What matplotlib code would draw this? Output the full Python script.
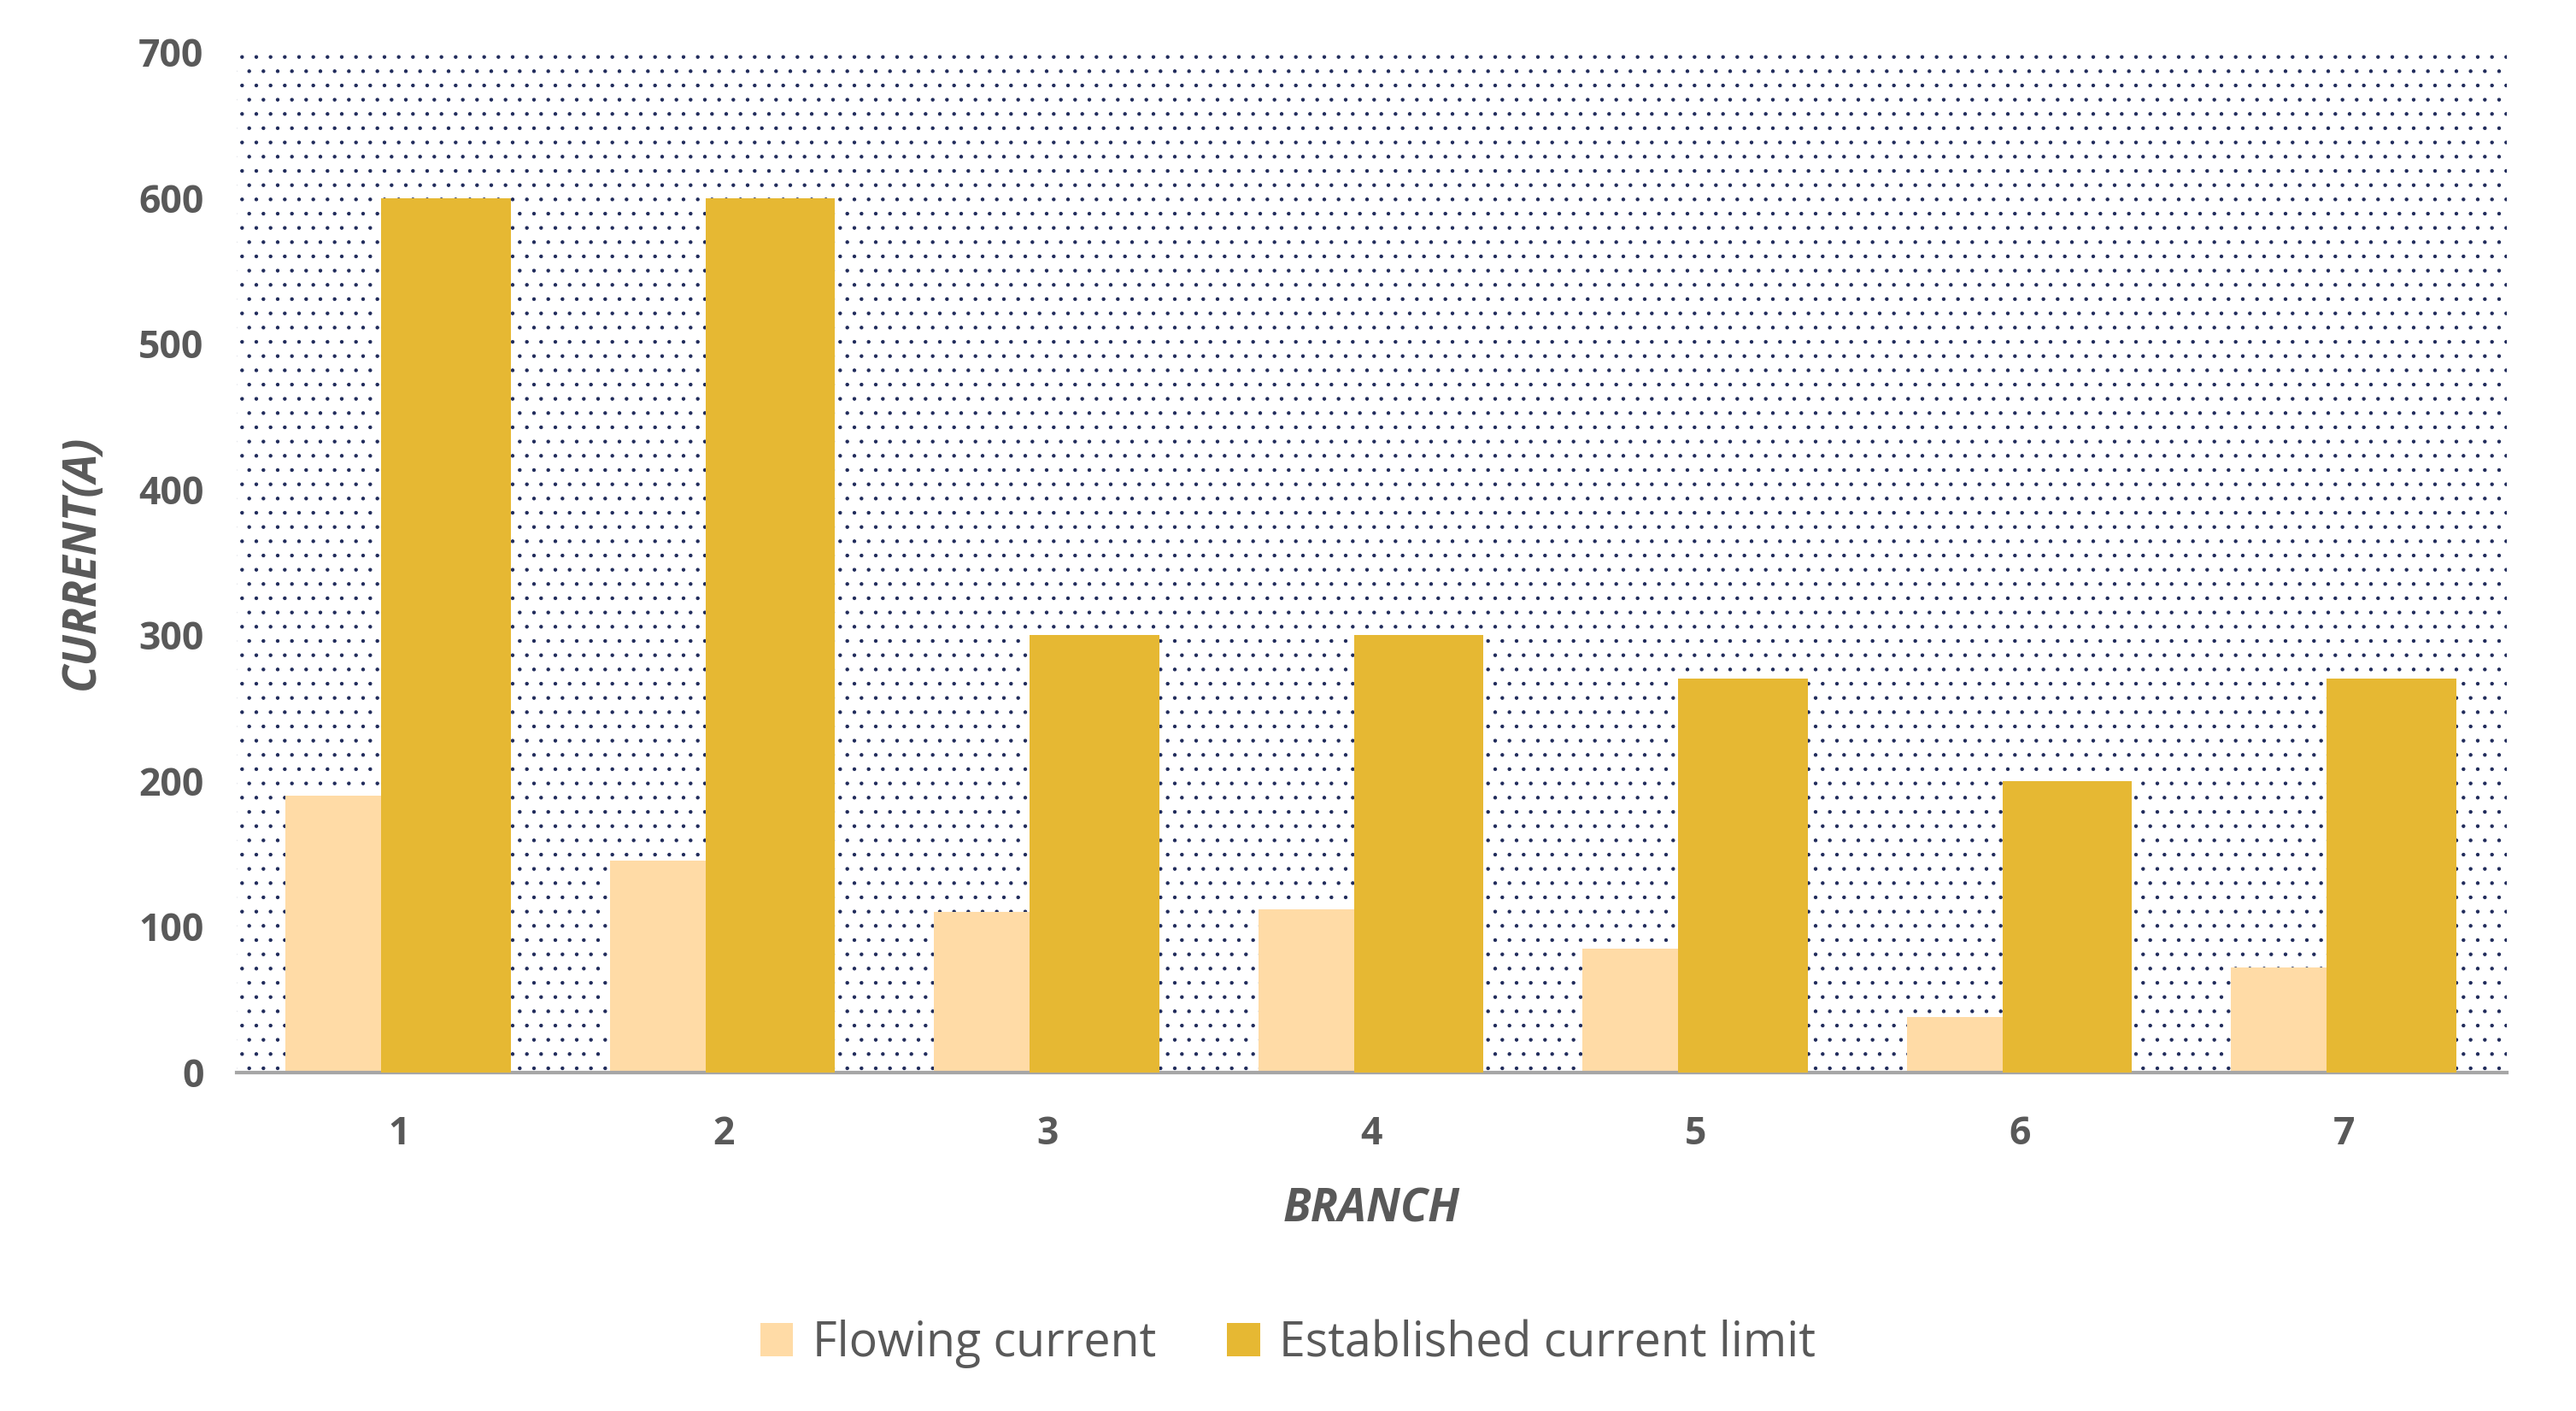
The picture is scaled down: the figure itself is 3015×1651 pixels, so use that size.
import numpy as np
import matplotlib.pyplot as plt
from matplotlib.patches import Rectangle

branches = ["1", "2", "3", "4", "5", "6", "7"]
flowing = [190, 145, 110, 112, 85, 38, 72]
limit = [600, 600, 300, 300, 270, 200, 270]

plt.rcParams['hatch.color'] = '#1f2a5a'
plt.rcParams['hatch.linewidth'] = 0.35
plt.rcParams['font.family'] = ['Open Sans', 'DejaVu Sans']

fig = plt.figure(figsize=(15.075, 8.255), dpi=200)
ax = fig.add_axes([0.092, 0.24, 0.881, 0.723])

x = np.arange(len(branches))
ax.set_xlim(-0.5, len(branches) - 0.5)
ax.set_ylim(0, 700)

# dotted background
ax.add_patch(Rectangle((0, 0), 1, 1, transform=ax.transAxes, facecolor='white',
                       hatch='..', edgecolor='#1f2a5a', linewidth=0, zorder=0))

ax.bar(x - 0.15, flowing, width=0.4, color='#FFDBA6', label='Flowing current', zorder=2)
ax.bar(x + 0.145, limit, width=0.4, color='#E6B833', label='Established current limit', zorder=3)

for s in ['top', 'right', 'left']:
    ax.spines[s].set_visible(False)
ax.spines['bottom'].set_color('#a6a6a6')
ax.spines['bottom'].set_linewidth(1.5)
ax.tick_params(length=0, labelsize=16, labelcolor='#595959')
ax.tick_params(axis='x', pad=18)
ax.tick_params(axis='y', pad=14)
ax.set_xticks(x)
ax.set_xticklabels(branches, fontweight='bold')
ax.set_yticks(range(0, 701, 100))
for t in ax.get_yticklabels():
    t.set_fontweight('bold')

ax.set_xlabel('BRANCH', fontsize=19, fontweight='bold', style='italic', color='#595959', labelpad=14)
ax.set_ylabel('CURRENT(A)', fontsize=19, fontweight='bold', style='italic', color='#595959', labelpad=14)

fig.legend(loc='lower center', bbox_to_anchor=(0.5, 0.0), ncol=2, frameon=False,
           fontsize=20, labelcolor='#595959', handlelength=0.7, handleheight=0.7,
           handletextpad=0.4, columnspacing=1.5)

fig.savefig('out.png', dpi=200)
